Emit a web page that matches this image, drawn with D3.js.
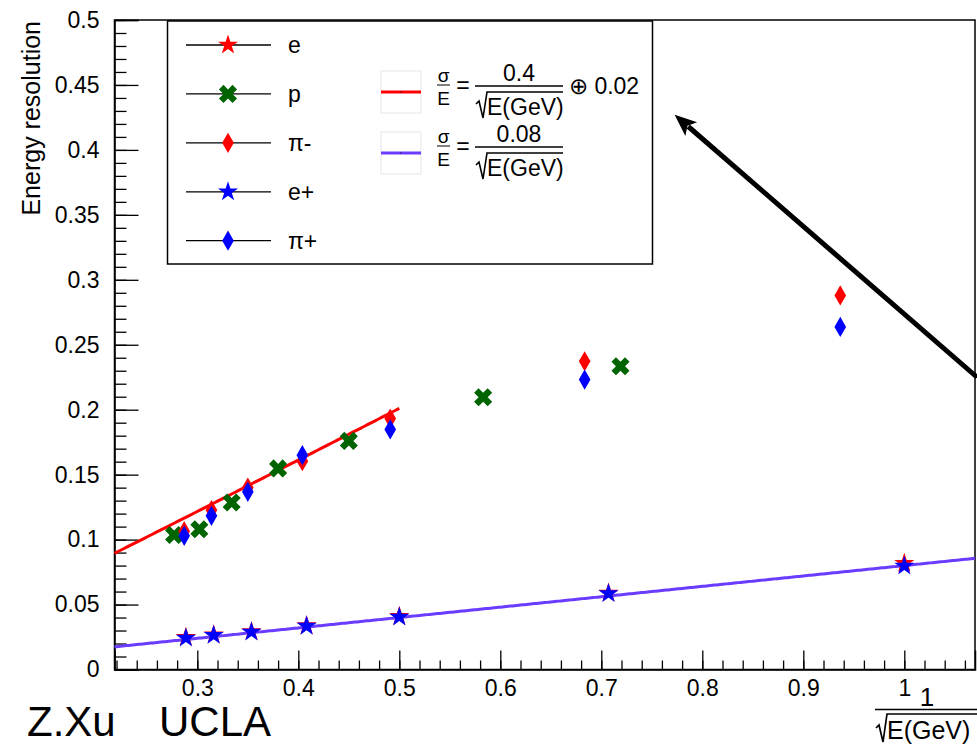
<!DOCTYPE html>
<html>
<head>
<meta charset="utf-8">
<script src="https://cdn.jsdelivr.net/npm/d3@7"></script>
<style>
  body { margin: 0; background: #fff; }
  svg { display: block; }
  text { font-family: "Liberation Sans", Arial, Helvetica, sans-serif; fill: #000; }
</style>
</head>
<body>
<svg id="chart" width="977" height="744"></svg>
<script>
// values (x = 1/sqrt(E), y = sigma/E)
const eX      = [0.2887, 0.3162, 0.3536, 0.4082, 0.5, 0.7071, 1.0];
const eY      = [0.0248, 0.0268, 0.0293, 0.0338, 0.0409, 0.0588, 0.0818];
const ePlusY  = [0.0243, 0.0263, 0.0289, 0.0334, 0.0404, 0.0585, 0.0797];
const pX      = [0.277, 0.302, 0.334, 0.380, 0.450, 0.583, 0.719];
const pY      = [0.1035, 0.108, 0.1286, 0.1548, 0.176, 0.2096, 0.2335];
const piX      = [0.287, 0.314, 0.350, 0.404, 0.491, 0.6835, 0.9366];
const piMinusY = [0.1065, 0.1227, 0.1401, 0.1604, 0.1932, 0.2373, 0.288];
const piPlusY  = [0.1029, 0.1183, 0.1368, 0.165, 0.1848, 0.2232, 0.2637];

const xTicks = [0.3, 0.4, 0.5, 0.6, 0.7, 0.8, 0.9, 1.0];
const xTickLabels = ["0.3", "0.4", "0.5", "0.6", "0.7", "0.8", "0.9", "1"];
const yTicks = [0, 0.05, 0.1, 0.15, 0.2, 0.25, 0.3, 0.35, 0.4, 0.45, 0.5];
const yTickLabels = ["0", "0.05", "0.1", "0.15", "0.2", "0.25", "0.3", "0.35", "0.4", "0.45", "0.5"];

const legendNames = ["e", "p", "\u03c0-", "e+", "\u03c0+"];
// fit functions: sigma/E = a/sqrt(E) (+) b
const fitA = [0.4, 0.08];
const fitB = [0.02, 0];
const fitTo = [0.5, 1.07];
const fitNumer = ["0.4", "0.08"];
const fitSuffix = ["\u2295 0.02", ""];

const svg = d3.select("#chart");

const x = d3.scaleLinear().domain([0.218, 1.07]).range([114.5, 975]);
const y = d3.scaleLinear().domain([0, 0.5]).range([669.5, 20]);

const red = "#ff0000", green = "#006400", blue = "#0000ff", violet = "#6a3cff";

// frame
svg.append("rect")
  .attr("x", x(0.218)).attr("y", y(0.5))
  .attr("width", x(1.07) - x(0.218)).attr("height", y(0) - y(0.5))
  .attr("fill", "none").attr("stroke", "#000").attr("stroke-width", 1.5);

// axes, ticks point inside like ROOT
const xMinor = d3.range(0.22, 1.07, 0.02);
const yMinor = d3.range(0, 0.5001, 0.01);

const gx = svg.append("g").attr("transform", `translate(0,${y(0)})`);
gx.call(d3.axisBottom(x).tickValues(xMinor).tickSize(-9).tickFormat(""))
  .select(".domain").remove();
gx.append("g").call(d3.axisBottom(x).tickValues(xTicks).tickSize(-19).tickPadding(10)
  .tickFormat((d, i) => xTickLabels[i]));

const gy = svg.append("g").attr("transform", `translate(${x(0.218)},0)`);
gy.call(d3.axisLeft(y).tickValues(yMinor).tickSize(-12).tickFormat(""))
  .select(".domain").remove();
gy.append("g").call(d3.axisLeft(y).tickValues(yTicks).tickSize(-24).tickPadding(15)
  .tickFormat((d, i) => yTickLabels[i]));

svg.selectAll(".tick line").attr("stroke", "#000").attr("stroke-width", 1.3);
svg.selectAll(".domain").attr("stroke", "#000").attr("stroke-width", 1.5);
svg.selectAll(".tick text").attr("font-size", 23)
  .attr("font-family", "'Liberation Sans', Arial, sans-serif").attr("fill", "#000");

// axis titles
svg.append("text")
  .attr("transform", "translate(40,21) rotate(-90)")
  .attr("text-anchor", "end")
  .attr("font-size", 25)
  .text("Energy resolution");

const xt = svg.append("g");
xt.append("text").attr("x", 927).attr("y", 706).attr("text-anchor", "middle")
  .attr("font-size", 26).text("1");
xt.append("line").attr("x1", 875).attr("x2", 977).attr("y1", 709.5).attr("y2", 709.5)
  .attr("stroke", "#000").attr("stroke-width", 1.5);
xt.append("path").attr("d", "M876,728 L879,725 L883,742 L887,714 L977,714")
  .attr("fill", "none").attr("stroke", "#000").attr("stroke-width", 1.7);
xt.append("text").attr("x", 887).attr("y", 739).attr("font-size", 25).text("E(GeV)");

// fit curves
const fitLine = d3.line().x(d => x(d[0])).y(d => y(d[1]));
const fitColors = [red, violet];
fitA.forEach((a, k) => {
  const pts = d3.range(0.218, fitTo[k] + 1e-9, 0.002)
    .map(v => [v, Math.hypot(a * v, fitB[k])]);
  svg.append("path").attr("d", fitLine(pts))
    .attr("fill", "none").attr("stroke", fitColors[k]).attr("stroke-width", 3);
});

// markers
const star = d3.symbol().type(d3.symbolStar).size(125);
const diamond = d3.symbol().type(d3.symbolDiamond).size(118);
const cross = d3.symbol().type(d3.symbolCross).size(205);

function drawSeries(xs, ys, sym, color, rot) {
  svg.append("g").selectAll("path")
    .data(xs.map((v, i) => [v, ys[i]]))
    .join("path")
    .attr("d", sym)
    .attr("transform", d => `translate(${x(d[0])},${y(d[1])}) rotate(${rot})`)
    .attr("fill", color);
}
drawSeries(eX, eY, star, red, 0);
drawSeries(pX, pY, cross, green, 45);
drawSeries(piX, piMinusY, diamond, red, 0);
drawSeries(eX, ePlusY, star, blue, 0);
drawSeries(piX, piPlusY, diamond, blue, 0);

// legend
const lg = svg.append("g");
lg.append("rect").attr("x", 167.5).attr("y", 21).attr("width", 485).attr("height", 243)
  .attr("fill", "#fff").attr("stroke", "#000").attr("stroke-width", 1.5);
const rowY = d3.scalePoint().domain(legendNames).range([45, 240.7]);
const legSym = [star, cross, diamond, star, diamond];
const legCol = [red, green, red, blue, blue];
const legRot = [0, 45, 0, 0, 0];
legendNames.forEach((name, i) => {
  const cy = rowY(name);
  lg.append("line").attr("x1", 186).attr("x2", 271).attr("y1", cy).attr("y2", cy)
    .attr("stroke", "#000").attr("stroke-width", 1.3);
  lg.append("path").attr("d", legSym[i]())
    .attr("transform", `translate(228,${cy}) rotate(${legRot[i]})`)
    .attr("fill", legCol[i]);
  lg.append("text").attr("x", 288).attr("y", cy).attr("dy", "0.35em")
    .attr("font-size", 23).text(name);
});

// fit entries with formulas
fitA.forEach((a, k) => {
  const bar = 86 + k * 61;
  const g = lg.append("g");
  g.append("rect").attr("x", 381).attr("y", bar - 15).attr("width", 40).attr("height", 42)
    .attr("fill", "#fff").attr("stroke", "#e6e6e6").attr("stroke-width", 1);
  g.append("line").attr("x1", 381).attr("x2", 421).attr("y1", bar + 6).attr("y2", bar + 6)
    .attr("stroke", fitColors[k]).attr("stroke-width", 3);
  g.append("rect").attr("x", 400.5).attr("y", bar + 5.5).attr("width", 1).attr("height", 1).attr("fill", "#000");
  g.append("text").attr("x", 443.5).attr("y", bar - 4).attr("text-anchor", "middle")
    .attr("font-size", 19).text("\u03c3");
  g.append("line").attr("x1", 437).attr("x2", 450).attr("y1", bar - 1).attr("y2", bar - 1)
    .attr("stroke", "#000").attr("stroke-width", 1);
  g.append("text").attr("x", 443.5).attr("y", bar + 19).attr("text-anchor", "middle")
    .attr("font-size", 19).text("E");
  g.append("text").attr("x", 463).attr("y", bar + 7).attr("text-anchor", "middle")
    .attr("font-size", 23).text("=");
  g.append("text").attr("x", 519).attr("y", bar - 5).attr("text-anchor", "middle")
    .attr("font-size", 23).text(fitNumer[k]);
  g.append("line").attr("x1", 475).attr("x2", 563).attr("y1", bar).attr("y2", bar)
    .attr("stroke", "#000").attr("stroke-width", 1.5);
  g.append("path").attr("d", `M476,${bar + 18} L479,${bar + 15} L483,${bar + 32} L487,${bar + 6} L563,${bar + 6}`)
    .attr("fill", "none").attr("stroke", "#000").attr("stroke-width", 1.6);
  g.append("text").attr("x", 487).attr("y", bar + 29).attr("font-size", 23).text("E(GeV)");
  if (fitSuffix[k]) {
    g.append("text").attr("x", 569).attr("y", bar + 8).attr("font-size", 23).text(fitSuffix[k]);
  }
});

// arrow annotation
const arrowFrom = [1.072, 0.2250];
const arrowTo = [0.7726, 0.4271];
const ax0 = x(arrowFrom[0]), ay0 = y(arrowFrom[1]);
const ax1 = x(arrowTo[0]), ay1 = y(arrowTo[1]);
const len = Math.hypot(ax1 - ax0, ay1 - ay0);
const ux = (ax1 - ax0) / len, uy = (ay1 - ay0) / len;
const headL = 22, headW = 9;
const bx = ax1 - ux * headL, by = ay1 - uy * headL;
svg.append("line").attr("x1", ax0).attr("y1", ay0).attr("x2", bx + ux * 4).attr("y2", by + uy * 4)
  .attr("stroke", "#000").attr("stroke-width", 5);
svg.append("path")
  .attr("d", `M${ax1},${ay1} L${bx - uy * headW},${by + ux * headW} L${bx + ux * 5},${by + uy * 5} L${bx + uy * headW},${by - ux * headW} Z`)
  .attr("fill", "#000");

// author tag
svg.append("text").attr("x", 27).attr("y", 736).attr("font-family", "Lato, 'Open Sans', sans-serif")
  .attr("font-size", 42).text("Z.Xu");
svg.append("text").attr("x", 159).attr("y", 736).attr("font-family", "Lato, 'Open Sans', sans-serif")
  .attr("font-size", 42).text("UCLA");
</script>
</body>
</html>
